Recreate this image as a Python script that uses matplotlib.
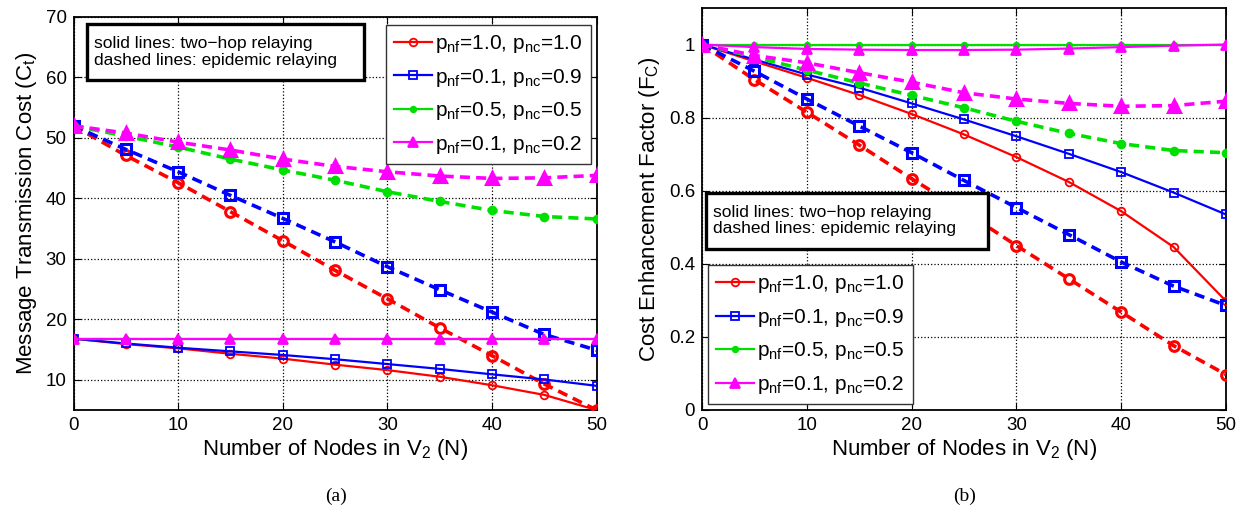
import matplotlib as mpl
mpl.use('Agg')
import matplotlib.pyplot as plt
from matplotlib.patches import Rectangle

plt.rcParams['font.family'] = ['Liberation Sans', 'DejaVu Sans']
plt.rcParams['mathtext.fontset'] = 'custom'
plt.rcParams['mathtext.rm'] = 'Liberation Sans'
plt.rcParams['mathtext.it'] = 'Liberation Sans'

N = [0, 5, 10, 15, 20, 25, 30, 35, 40, 45, 50]

labels = ['p$_{\\rm nf}$=1.0, p$_{\\rm nc}$=1.0',
          'p$_{\\rm nf}$=0.1, p$_{\\rm nc}$=0.9',
          'p$_{\\rm nf}$=0.5, p$_{\\rm nc}$=0.5',
          'p$_{\\rm nf}$=0.1, p$_{\\rm nc}$=0.2']
colors = ['#ff0000', '#0000ff', '#00e000', '#ff00ff']
markers = ['o', 's', '.', '^']

# (a) message transmission cost
cost_twohop = [
    [16.8, 15.9, 15.2, 14.3, 13.5, 12.5, 11.6, 10.5, 9.1, 7.5, 5.0],
    [16.8, 16.0, 15.3, 14.7, 14.1, 13.4, 12.6, 11.8, 10.9, 10.05, 9.0],
    [16.8, 16.8, 16.8, 16.8, 16.8, 16.8, 16.8, 16.8, 16.8, 16.8, 16.8],
    [16.8, 16.8, 16.8, 16.8, 16.8, 16.8, 16.8, 16.8, 16.8, 16.8, 16.8],
]
cost_epidemic = [
    [52.0, 47.1, 42.6, 37.8, 33.0, 28.1, 23.4, 18.6, 14.0, 9.3, 5.0],
    [52.0, 48.1, 44.4, 40.5, 36.7, 32.8, 28.7, 24.9, 21.2, 17.5, 14.9],
    [52.0, 50.3, 48.5, 46.5, 44.7, 43.0, 41.1, 39.5, 38.0, 37.0, 36.6],
    [52.0, 50.8, 49.3, 48.0, 46.5, 45.3, 44.4, 43.7, 43.3, 43.4, 43.8],
]

# (b) cost enhancement factor
fc_twohop = [
    [1.0, 0.954, 0.909, 0.862, 0.810, 0.754, 0.692, 0.624, 0.544, 0.446, 0.298],
    [1.0, 0.959, 0.918, 0.882, 0.839, 0.795, 0.749, 0.701, 0.651, 0.595, 0.535],
    [1.0, 1.0, 1.0, 1.0, 1.0, 1.0, 1.0, 1.0, 1.0, 1.0, 1.0],
    [1.0, 0.993, 0.988, 0.986, 0.985, 0.985, 0.986, 0.989, 0.993, 0.997, 1.0],
]
fc_epidemic = [
    [1.0, 0.904, 0.815, 0.725, 0.633, 0.544, 0.450, 0.359, 0.268, 0.176, 0.097],
    [1.0, 0.927, 0.851, 0.777, 0.704, 0.628, 0.554, 0.480, 0.405, 0.339, 0.286],
    [1.0, 0.966, 0.930, 0.895, 0.861, 0.827, 0.790, 0.757, 0.729, 0.710, 0.704],
    [1.0, 0.970, 0.950, 0.923, 0.897, 0.868, 0.851, 0.839, 0.831, 0.833, 0.845],
]

note = 'solid lines: two\u2212hop relaying\ndashed lines: epidemic relaying'


def draw(ax, solid, dashed):
    handles = []
    for i in range(4):
        if markers[i] == '.':
            ms = 8
        elif markers[i] == '^':
            ms = 7
        else:
            ms = 5.5
        mfc = 'none' if i < 2 else colors[i]
        h, = ax.plot(N, solid[i], color=colors[i], marker=markers[i], lw=1.6,
                     ms=ms, mfc=mfc, mew=1.3, label=labels[i], zorder=3)
        ax.plot(N, dashed[i], color=colors[i], marker=markers[i], lw=2.6,
                ls=(0, (2.8, 1.7)), ms=ms + 1.5, mfc=mfc, mew=2.2, zorder=3)
        handles.append(h)
    ax.set_xlim(0, 50)
    ax.set_xticks([0, 10, 20, 30, 40, 50])
    ax.grid(True, ls=':', color='black', lw=0.9)
    ax.tick_params(direction='in', top=True, right=True, labelsize=13.5,
                   length=5, pad=5)
    for s in ax.spines.values():
        s.set_linewidth(1.3)
    ax.set_xlabel('Number of Nodes in V$_{\\rm 2}$ (N)', fontsize=16, labelpad=2)
    return handles


def note_box(ax, x0, y0, x1, y1):
    ax.add_patch(Rectangle((x0, y0), x1 - x0, y1 - y0, transform=ax.transAxes,
                           fc='white', ec='black', lw=2.4, zorder=5))
    ax.text(x0 + 0.014, (y0 + y1) / 2, note, transform=ax.transAxes,
            fontsize=12.5, va='center', ha='left', linespacing=1.1, zorder=6)


def add_legend(ax, handles, loc, anchor):
    leg = ax.legend(handles=handles, loc=loc, bbox_to_anchor=anchor,
                    borderaxespad=0, fontsize=15, fancybox=False,
                    edgecolor='#333333', framealpha=1, handlelength=1.8,
                    handletextpad=0.15, labelspacing=0.55, borderpad=0.4)
    leg.get_frame().set_linewidth(1.0)
    leg.set_zorder(7)


fig = plt.figure(figsize=(12.36, 5.05), dpi=100)

ax1 = fig.add_axes([73.5 / 1236, 95 / 505, 523 / 1236, 393 / 505])
h = draw(ax1, cost_twohop, cost_epidemic)
ax1.set_ylim(5, 70)
ax1.set_yticks([10, 20, 30, 40, 50, 60, 70])
ax1.set_ylabel('Message Transmission Cost (C$_{\\rm t}$)', fontsize=16, labelpad=5)
note_box(ax1, 0.0254, 0.8397, 0.555, 0.982)
add_legend(ax1, h, 'upper right', (0.9895, 0.98))

ax2 = fig.add_axes([702 / 1236, 95 / 505, 524 / 1236, 402 / 505])
h = draw(ax2, fc_twohop, fc_epidemic)
ax2.set_ylim(0, 1.1)
ax2.set_yticks([0, 0.2, 0.4, 0.6, 0.8, 1.0])
ax2.set_yticklabels(['0', '0.2', '0.4', '0.6', '0.8', '1'])
ax2.set_ylabel('Cost Enhancement Factor (F$_{\\rm C}$)', fontsize=16, labelpad=5)
note_box(ax2, 0.0076, 0.401, 0.546, 0.541)
add_legend(ax2, h, 'lower left', (0.0115, 0.0145))

fig.text(336 / 1236, 9 / 505, '(a)', ha='center', va='center', fontsize=14,
         family='Liberation Serif')
fig.text(965 / 1236, 9 / 505, '(b)', ha='center', va='center', fontsize=14,
         family='Liberation Serif')

fig.savefig('out.png', dpi=100)
